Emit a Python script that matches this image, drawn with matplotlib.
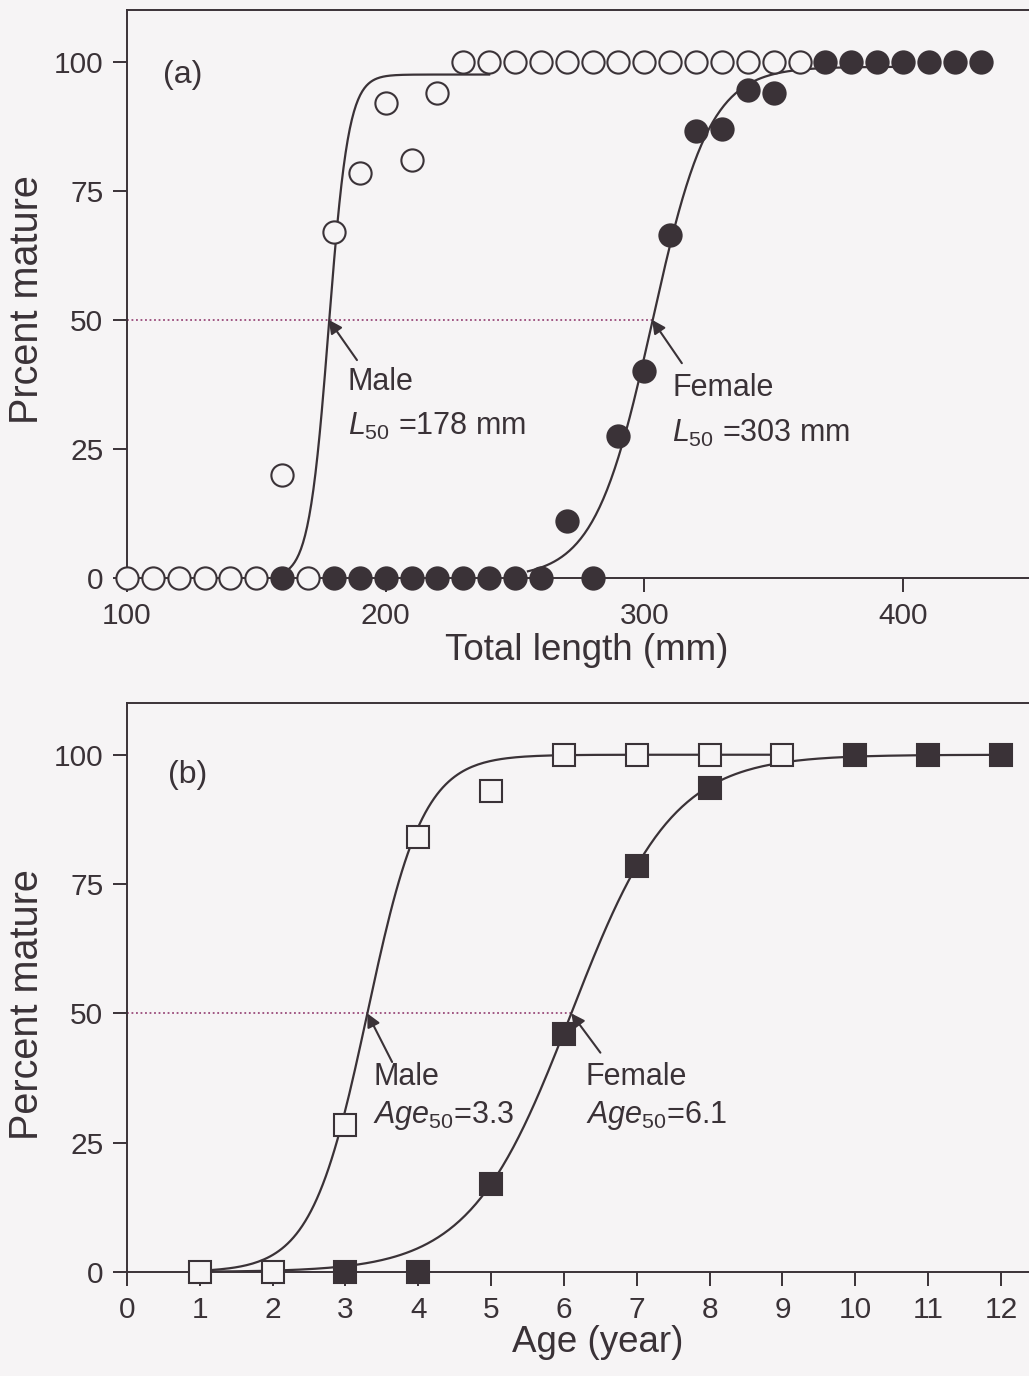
import matplotlib
matplotlib.use('Agg')
import matplotlib.pyplot as plt
import numpy as np

# ---- panel (a): total length (mm) ----
male_len = [100, 110, 120, 130, 140, 150, 160, 170, 180, 190, 200, 210, 220,
            230, 240, 250, 260, 270, 280, 290, 300, 310, 320, 330, 340, 350, 360]
male_len_pct = [0, 0, 0, 0, 0, 0, 20, 0, 67, 78.5, 92, 81, 94,
                100, 100, 100, 100, 100, 100, 100, 100, 100, 100, 100, 100, 100, 100]
female_len = [160, 180, 190, 200, 210, 220, 230, 240, 250, 260, 270, 280, 290,
              300, 310, 320, 330, 340, 350, 370, 380, 390, 400, 410, 420, 430]
female_len_pct = [0, 0, 0, 0, 0, 0, 0, 0, 0, 0, 11, 0, 27.5,
                  40, 66.5, 86.5, 87, 94.5, 94, 100, 100, 100, 100, 100, 100, 100]

# ---- panel (b): age (year) ----
male_age = [1, 2, 3, 4, 5, 6, 7, 8, 9]
male_age_pct = [0, 0, 28.5, 84, 93, 100, 100, 100, 100]
female_age = [3, 4, 5, 6, 7, 8, 10, 11, 12]
female_age_pct = [0, 0, 17, 46, 78.5, 93.5, 100, 100, 100]

# fitted logistic curves (midpoint, slope, asymptote)
male_L50, male_k_len, male_max_len = 178, 0.26, 97.5
female_L50, female_k_len, female_max_len = 303, 0.09, 99.0
male_A50, male_k_age = 3.3, 2.6
female_A50, female_k_age = 6.1, 1.44

ink = '#3a3237'
bg = '#f6f4f5'
dotc = '#9a4a7a'

plt.rcParams['font.family'] = ['Liberation Sans', 'DejaVu Sans']
plt.rcParams['mathtext.fontset'] = 'custom'
plt.rcParams['mathtext.rm'] = 'Liberation Sans'
plt.rcParams['mathtext.it'] = 'Liberation Sans:italic'


def logistic(x, mid, k, top=100.0):
    return top / (1.0 + np.exp(-k * (x - mid)))


def style_axes(ax):
    for s in ['top', 'left', 'bottom']:
        ax.spines[s].set_linewidth(1.4)
        ax.spines[s].set_color(ink)
    ax.spines['right'].set_visible(False)
    ax.set_facecolor(bg)
    ax.tick_params(direction='out', length=10, width=1.4, pad=7,
                   labelsize=21.5, colors=ink)
    ax.set_yticks([0, 25, 50, 75, 100])
    ax.set_ylim(0, 110)


W, H = 1029, 1376
fig = plt.figure(figsize=(W / 100, H / 100), dpi=100, facecolor=bg)

# ---------- (a) ----------
ax1 = fig.add_axes([127 / W, 1 - 578 / H, (W - 127) / W, (578 - 10) / H])
style_axes(ax1)
ax1.set_xlim(100, 448.7)
ax1.set_xticks([100, 200, 300, 400])

xm = np.linspace(160, 240, 200)
ax1.plot(xm, logistic(xm, male_L50, male_k_len, male_max_len), color=ink, lw=1.6, zorder=2)
xf = np.linspace(255, 400, 200)
ax1.plot(xf, logistic(xf, female_L50, female_k_len, female_max_len), color=ink, lw=1.6, zorder=2)
ax1.plot([100, female_L50], [50, 50], ls=(0, (1, 1.5)), color=dotc, lw=1.3, zorder=1)

ax1.plot(male_len, male_len_pct, 'o', ms=16, mfc=bg, mec=ink, mew=1.5,
         clip_on=False, zorder=3)
ax1.plot(female_len, female_len_pct, 'o', ms=16, mfc=ink, mec=ink, mew=1.5,
         clip_on=False, zorder=4)

arr = dict(arrowstyle='-|>', color=ink, lw=1.5, mutation_scale=20, shrinkA=0, shrinkB=0)
ax1.annotate('', xy=(male_L50, 50), xytext=(188.9, 42.2), arrowprops=arr)
ax1.annotate('', xy=(female_L50, 50), xytext=(314.5, 41.6), arrowprops=arr)
ax1.text(185.4, 36.4, 'Male', fontsize=22, color=ink, ha='left', va='baseline')
ax1.text(185.4, 27.7, r'$L_{\mathrm{50}}$ =178 mm', fontsize=22, color=ink, ha='left', va='baseline')
ax1.text(310.7, 35.2, 'Female', fontsize=22, color=ink, ha='left', va='baseline')
ax1.text(310.7, 26.3, r'$L_{\mathrm{50}}$ =303 mm', fontsize=22, color=ink, ha='left', va='baseline')
ax1.text(113.9, 97.5, '(a)', fontsize=23, color=ink, ha='left', va='center')

# ---------- (b) ----------
ax2 = fig.add_axes([127 / W, 1 - 1272 / H, (W - 127) / W, (1272 - 703) / H])
style_axes(ax2)
ax2.set_xlim(0, 12.385)
ax2.set_xticks(range(0, 13))

am = np.linspace(1, 9, 200)
ax2.plot(am, logistic(am, male_A50, male_k_age), color=ink, lw=1.6, zorder=2)
af = np.linspace(1, 12, 300)
ax2.plot(af, logistic(af, female_A50, female_k_age), color=ink, lw=1.6, zorder=2)
ax2.plot([0, female_A50], [50, 50], ls=(0, (1, 1.5)), color=dotc, lw=1.3, zorder=1)

ax2.plot(female_age, female_age_pct, 's', ms=15.5, mfc=ink, mec=ink, mew=1.5,
         clip_on=False, zorder=3)
ax2.plot(male_age, male_age_pct, 's', ms=15.5, mfc=bg, mec=ink, mew=1.5,
         clip_on=False, zorder=4)

ax2.annotate('', xy=(male_A50, 50), xytext=(3.64, 40.6), arrowprops=arr)
ax2.annotate('', xy=(female_A50, 50), xytext=(6.5, 42.4), arrowprops=arr)
ax2.text(3.38, 36.2, 'Male', fontsize=22, color=ink, ha='left', va='baseline')
ax2.text(3.38, 28.8, r'$\mathit{Age}_{\mathrm{50}}$=3.3', fontsize=22, color=ink, ha='left', va='baseline')
ax2.text(6.30, 36.2, 'Female', fontsize=22, color=ink, ha='left', va='baseline')
ax2.text(6.30, 28.8, r'$\mathit{Age}_{\mathrm{50}}$=6.1', fontsize=22, color=ink, ha='left', va='baseline')
ax2.text(0.56, 96.1, '(b)', fontsize=23, color=ink, ha='left', va='center')

# axis labels
fig.text(587 / W, 1 - 650 / H, 'Total length (mm)', fontsize=26.5, color=ink, ha='center', va='center')
fig.text(598 / W, 1 - 1343 / H, 'Age (year)', fontsize=26.5, color=ink, ha='center', va='center')
fig.text(27 / W, 1 - 300 / H, 'Prcent mature', fontsize=28.5, color=ink, rotation=90, ha='center', va='center')
fig.text(27 / W, 1 - 1005 / H, 'Percent mature', fontsize=28.5, color=ink, rotation=90, ha='center', va='center')

fig.savefig('out.png', dpi=100, facecolor=bg)
